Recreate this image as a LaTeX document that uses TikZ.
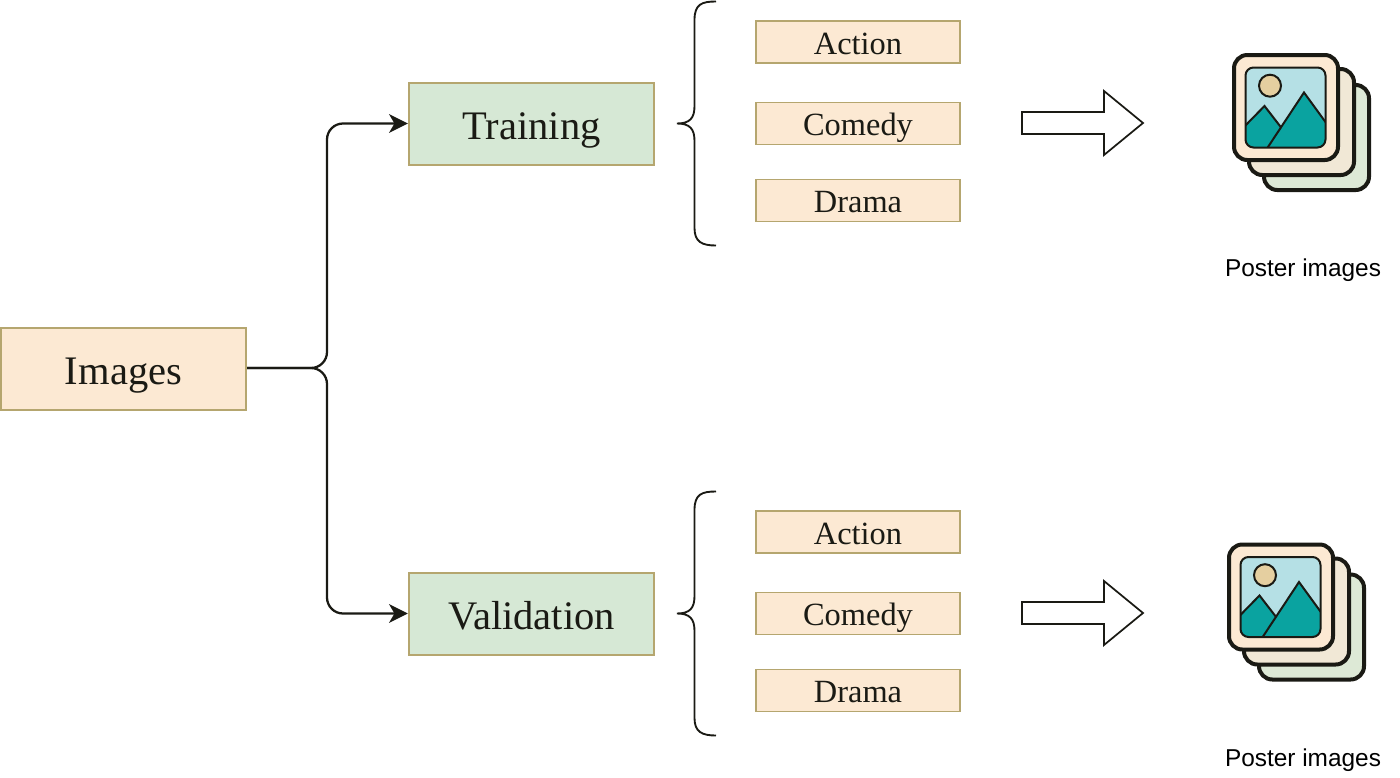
\documentclass[tikz,border=0pt]{standalone}
\usepackage{fontspec}
\setmainfont{Liberation Serif}
\newfontfamily\capfont{Liberation Sans}
\usetikzlibrary{arrows.meta}
\definecolor{peach}{HTML}{FCE9D3}
\definecolor{sage}{HTML}{D6E8D5}
\definecolor{edgeol}{HTML}{B5A66F}
\definecolor{ink}{HTML}{1A1A14}
\definecolor{teal}{HTML}{0AA3A0}
\definecolor{sky}{HTML}{B5E0E5}
\definecolor{sun}{HTML}{E5CFA0}
\definecolor{midlayer}{HTML}{F1E8D6}
\definecolor{backlayer}{HTML}{DDE9D6}
\tikzset{
  x=0.75pt,y=-0.75pt,
  bigbox/.style={draw=edgeol,line width=1.6pt,minimum width=184pt,minimum height=61.5pt,inner sep=0pt,font=\fontsize{30.4}{32}\selectfont,text=ink,text height=22.5pt,text depth=0pt},
  peachbox/.style={bigbox,fill=peach},
  sagebox/.style={bigbox,fill=sage},
  genre/.style={draw=edgeol,line width=1.4pt,fill=peach,minimum width=153pt,minimum height=31.5pt,inner sep=0pt,font=\fontsize{24.3}{26}\selectfont,text=ink,text height=18pt,text depth=0pt},
  conn/.style={draw=ink,line width=1.7pt,rounded corners=12pt,-{Stealth[length=14pt,width=14pt,inset=4pt]}},
  bracepath/.style={draw=ink,line width=1.4pt},
  blockarrow/.style={draw=ink,line width=1.3pt,fill=white},
  caption/.style={font=\capfont\fontsize{18.3}{20}\selectfont,text=black,inner sep=0pt},
  layer/.style={draw=ink,line width=3pt,rounded corners=10pt},
  thin/.style={draw=ink,line width=1.5pt}
}
\newcommand{\posterstack}[2]{%
  \begin{scope}[shift={(#1,#2)}]
    \draw[layer,fill=backlayer] (1264,85) rectangle (1369,190);
    \draw[layer,fill=midlayer] (1249,69) rectangle (1354,175);
    \draw[layer,fill=peach] (1234,55) rectangle (1338,160);
    \begin{scope}
      \clip[rounded corners=6pt] (1245.5,67.5) rectangle (1325.5,147.5);
      \fill[sky] (1245,67) rectangle (1326,148);
      \draw[thin,fill=teal] (1240,131) -- (1264.5,106) -- (1290,139) -- (1290,155) -- (1240,155) -- cycle;
      \draw[thin,fill=teal] (1266,150) -- (1304,92.5) -- (1332,131) -- (1332,155) -- (1266,155) -- cycle;
    \end{scope}
    \draw[thin,rounded corners=6pt] (1245.5,67.5) rectangle (1325.5,147.5);
    \draw[thin,fill=sun] (1270,85.7) circle[radius=11];
  \end{scope}}
\begin{document}
\begin{tikzpicture}
\useasboundingbox (0,0) rectangle (1400,778);
% main boxes
\node[peachbox] (images) at (123.5,369) {Images};
\node[sagebox] (training) at (531.5,124) {Training};
\node[sagebox] (validation) at (531.5,614) {Validation};
% genres upper
\node[genre] (action1) at (858,42) {Action};
\node[genre] (comedy1) at (858,123.5) {Comedy};
\node[genre] (drama1) at (858,200.5) {Drama};
% genres lower
\node[genre] (action2) at (858,532) {Action};
\node[genre] (comedy2) at (858,613.5) {Comedy};
\node[genre] (drama2) at (858,690.5) {Drama};
% connectors
\coordinate (forkT) at (327,123.5);
\coordinate (forkB) at (327,613.5);
\coordinate (start) at (images.east |- 0,368);
\draw[conn] (start) -- (327,368) -- (forkT) -- (training.west |- forkT);
\draw[conn] (start) -- (327,368) -- (forkB) -- (validation.west |- forkB);
% braces
\foreach \dy in {0,490}{
  \draw[bracepath] (716,1.5+\dy) .. controls (702,1.5+\dy) and (694.5,4+\dy) .. (694.5,20+\dy)
    -- (694.5,106+\dy) .. controls (694.5,118+\dy) and (690,123.5+\dy) .. (677,123.5+\dy)
    .. controls (690,123.5+\dy) and (694.5,129+\dy) .. (694.5,141+\dy)
    -- (694.5,228+\dy) .. controls (694.5,242+\dy) and (702,245.5+\dy) .. (716,245.5+\dy);
  % block arrows
  \draw[blockarrow] (1022,112+\dy) -- (1104,112+\dy) -- (1104,91+\dy) -- (1143,123+\dy) -- (1104,155+\dy) -- (1104,134+\dy) -- (1022,134+\dy) -- cycle;
}
% icons
\posterstack{0}{0}
\posterstack{-5}{489.5}
% captions
\node[caption] (cap1) at (1303,270) {Poster images};
\node[caption] (cap2) at (1303,760) {Poster images};
\end{tikzpicture}
\end{document}
